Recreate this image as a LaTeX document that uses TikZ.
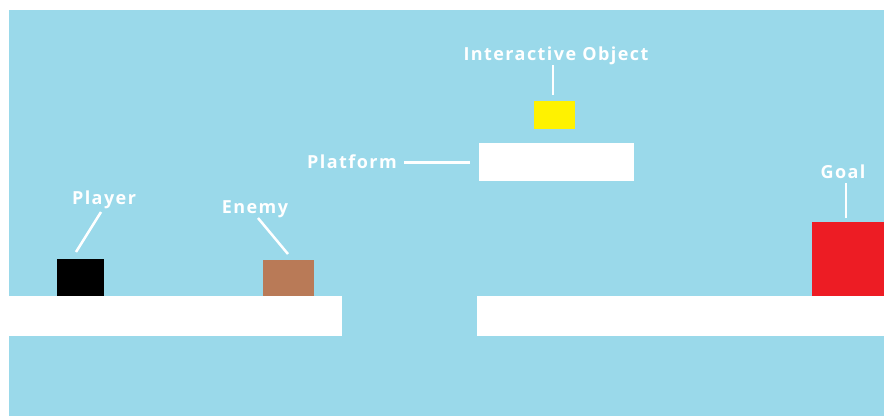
\documentclass[tikz,border=0pt]{standalone}
\usepackage{fontspec}
\setmainfont{Open Sans}[BoldFont={Open Sans Bold}, LetterSpace=8]
\definecolor{sky}{HTML}{9AD9EA}
\definecolor{enemyc}{HTML}{B97A57}
\definecolor{goalc}{HTML}{ED1C24}
\definecolor{objc}{HTML}{FFF200}
\begin{document}
\begin{tikzpicture}[x=1pt,y=-1pt,
  lbl/.style={text=white,font=\bfseries\fontsize{18}{20}\selectfont,inner sep=0pt,anchor=center},
  lead/.style={draw=white,line width=2.5pt}]
\useasboundingbox (0,0) rectangle (884,416);
\fill[white] (0,0) rectangle (884,416);
\fill[sky] (9,10) rectangle (884,416);
% platforms
\fill[white] (9,296) rectangle (342,336);
\fill[white] (477,296) rectangle (884,336);
\fill[white] (479,143) rectangle (634,181);
% objects
\fill[black] (57,259) rectangle (104,296);
\fill[enemyc] (263,260) rectangle (314,296);
\fill[objc] (534,101) rectangle (575,129);
\fill[goalc] (812,222) rectangle (884,296);
% labels
\node[lbl] (player) at (104,200) {Player};
\node[lbl] (enemy) at (255,209) {Enemy};
\node[lbl] (inter) at (556,56) {Interactive Object};
\node[lbl] (plat) at (352,162) {Platform};
\node[lbl] (goal) at (843,172) {Goal};
% leader lines
\coordinate (p1) at (101,212); \coordinate (p2) at (76,252);
\coordinate (e1) at (258,218); \coordinate (e2) at (288,254);
\coordinate (i1) at (553,65); \coordinate (i2) at (553,95);
\coordinate (l1) at (404,162.5); \coordinate (l2) at (470,162.5);
\coordinate (g1) at (846,183); \coordinate (g2) at (846,218);
\draw[lead] (p1) -- (p2);
\draw[lead] (e1) -- (e2);
\draw[lead] (i1) -- (i2);
\draw[lead] (l1) -- (l2);
\draw[lead] (g1) -- (g2);
\end{tikzpicture}
\end{document}
